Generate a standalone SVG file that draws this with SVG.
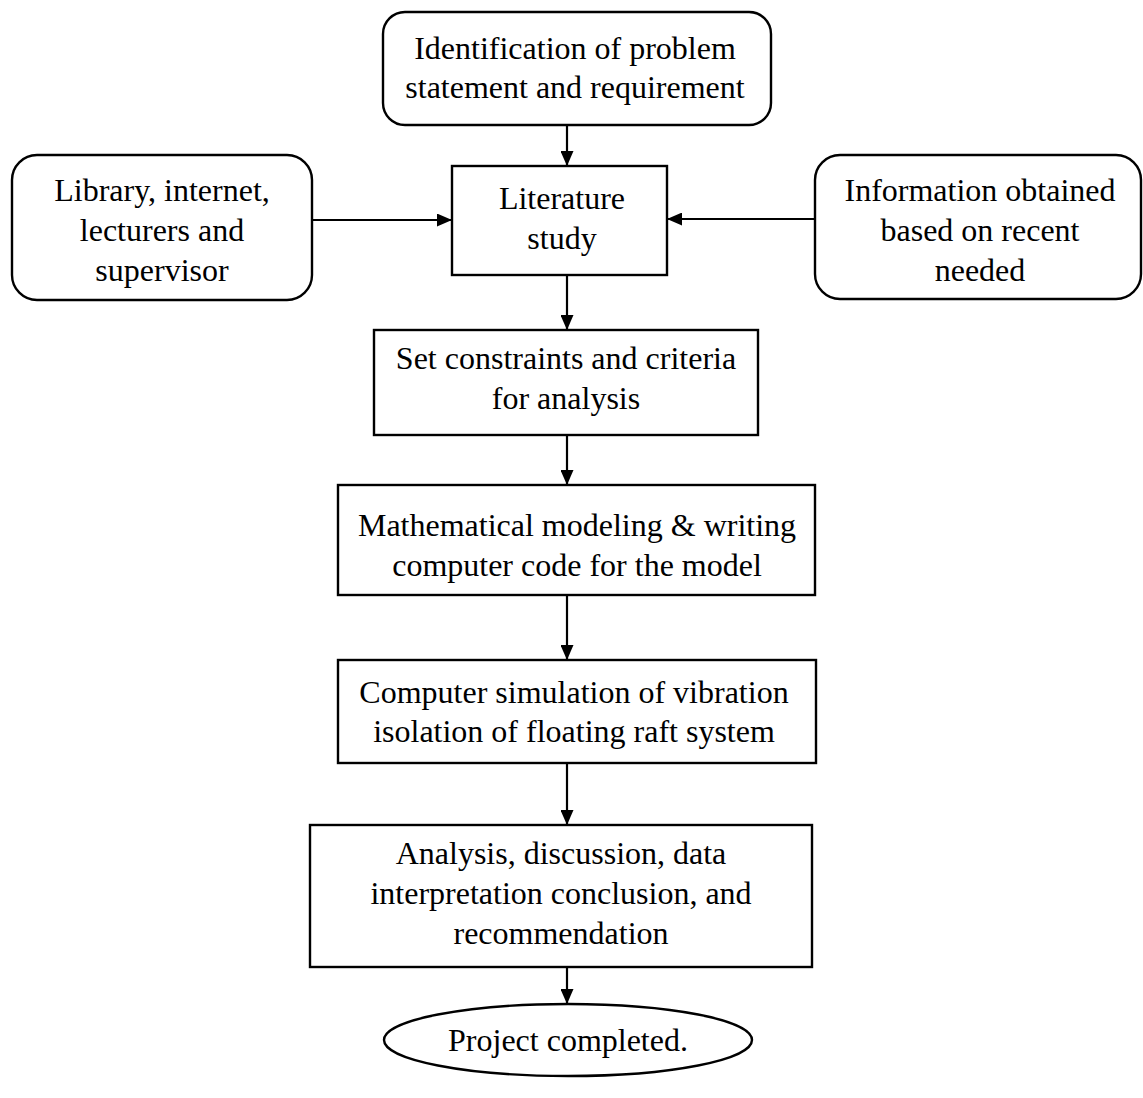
<svg xmlns="http://www.w3.org/2000/svg" width="1143" height="1098" viewBox="0 0 1143 1098">
<defs>
<marker id="ah" markerWidth="15" markerHeight="13" refX="15" refY="6.5" orient="auto" markerUnits="userSpaceOnUse" viewBox="0 0 15 13">
<path d="M0,0 L15,6.5 L0,13 z" fill="#000"/>
</marker>
<style>
.box{fill:#fff;stroke:#000;stroke-width:2.4}
.t{font-family:"Liberation Serif","Times New Roman",serif;font-size:32px;fill:#000;text-anchor:middle}
.c{stroke:#000;stroke-width:2.2;fill:none;marker-end:url(#ah)}
</style>
</defs>
<rect width="1143" height="1098" fill="#fff"/>
<g id="connectors">
<line class="c" x1="567" y1="125" x2="567" y2="166"/>
<line class="c" x1="312" y1="220" x2="452" y2="220"/>
<line class="c" x1="815" y1="219" x2="667" y2="219"/>
<line class="c" x1="567" y1="275" x2="567" y2="330"/>
<line class="c" x1="567" y1="435" x2="567" y2="485"/>
<line class="c" x1="567" y1="595" x2="567" y2="660"/>
<line class="c" x1="567" y1="763" x2="567" y2="825"/>
<line class="c" x1="567" y1="967" x2="567" y2="1004"/>
</g>
<g id="n-identification">
<rect class="box" x="383" y="12" width="388" height="113" rx="22"/>
<text class="t" x="575" y="59">Identification of problem</text>
<text class="t" x="575" y="98">statement and requirement</text>
</g>
<g id="n-library">
<rect class="box" x="12" y="155" width="300" height="145" rx="25"/>
<text class="t" x="162" y="201">Library, internet,</text>
<text class="t" x="162" y="241">lecturers and</text>
<text class="t" x="162" y="281">supervisor</text>
</g>
<g id="n-information">
<rect class="box" x="815" y="155" width="326" height="144" rx="25"/>
<text class="t" x="980" y="201">Information obtained</text>
<text class="t" x="980" y="241">based on recent</text>
<text class="t" x="980" y="281">needed</text>
</g>
<g id="n-literature">
<rect class="box" x="452" y="166" width="215" height="109"/>
<text class="t" x="562" y="209">Literature</text>
<text class="t" x="562" y="249">study</text>
</g>
<g id="n-constraints">
<rect class="box" x="374" y="330" width="384" height="105"/>
<text class="t" x="566" y="369">Set constraints and criteria</text>
<text class="t" x="566" y="409">for analysis</text>
</g>
<g id="n-modeling">
<rect class="box" x="338" y="485" width="477" height="110"/>
<text class="t" x="577" y="536">Mathematical modeling &amp; writing</text>
<text class="t" x="577" y="576">computer code for the model</text>
</g>
<g id="n-simulation">
<rect class="box" x="338" y="660" width="478" height="103"/>
<text class="t" x="574" y="703">Computer simulation of vibration</text>
<text class="t" x="574" y="742">isolation of floating raft system</text>
</g>
<g id="n-analysis">
<rect class="box" x="310" y="825" width="502" height="142"/>
<text class="t" x="561" y="864">Analysis, discussion, data</text>
<text class="t" x="561" y="904">interpretation conclusion, and</text>
<text class="t" x="561" y="944">recommendation</text>
</g>
<g id="n-completed">
<ellipse class="box" cx="568" cy="1040" rx="184" ry="36"/>
<text class="t" x="568" y="1051">Project completed.</text>
</g>
</svg>
